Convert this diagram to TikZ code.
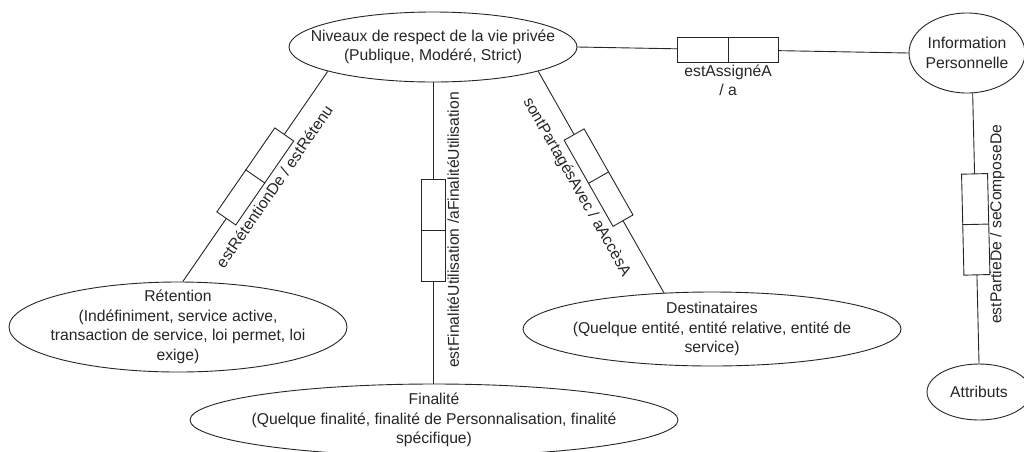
\documentclass[tikz,border=0pt]{standalone}
\usepackage{fontspec}
\setmainfont{Liberation Sans}
\usetikzlibrary{shapes.geometric,calc}
\begin{document}
\begin{tikzpicture}[x=1pt,y=-1pt,
  ink/.style={draw=black!85, line width=0.9pt},
  entity/.style={ellipse, ink, inner sep=0pt},
  txt/.style={align=center, text=black!85, font=\fontsize{15.7}{19.5}\selectfont, inner sep=0pt},
  relbox/.style={rectangle, ink, fill=white, minimum width=101pt, minimum height=25pt, inner sep=0pt},
  rellbl/.style={text=black!85, font=\fontsize{15.7}{19.5}\selectfont, inner xsep=0pt},
]
% canvas
\fill[white] (0,0) rectangle (1024,451);
\useasboundingbox (0,0) rectangle (1024,451);

% entities
\node[entity, minimum width=288pt, minimum height=70pt] (N) at (433,47) {};
\node[txt] (Nt) at (N.center) {Niveaux de respect de la vie privée\\(Publique, Modéré, Strict)};

\node[entity, minimum width=116pt, minimum height=80pt] (I) at (967,53) {};
\node[txt] (It) at (I.center) {Information\\Personnelle};

\node[entity, minimum width=338pt, minimum height=90pt] (R) at (178,327) {};
\node[txt] (Rt) at (R.center) {Rétention\\(Indéfiniment, service active,\\transaction de service, loi permet, loi\\exige)};

\node[entity, minimum width=488pt, minimum height=72pt] (F) at (434,420) {};
\node[txt] (Ft) at (F.center) {Finalité\\(Quelque finalité, finalité de Personnalisation, finalité\\spécifique)};

\node[entity, minimum width=378pt, minimum height=74pt] (D) at (712,329) {};
\node[txt] (Dt) at (D.center) {Destinataires\\(Quelque entité, entité relative, entité de\\service)};

\node[entity, minimum width=104pt, minimum height=56pt] (A) at (979,392) {};
\node[txt] (At) at (A.center) {Attributs};

% relations
\draw[ink] (N.east) -- node[pos=.455, relbox] (b1) {} (I.west);
\draw[ink] (b1.north) -- (b1.south);
\node[txt, anchor=north, inner sep=2pt] (l1) at (b1.south) {estAssignéA\\/ a};

\draw[ink] (N.193) -- node[pos=.5, sloped, relbox, minimum width=102pt, minimum height=23pt] (b2) {}
  node[pos=.49, sloped, rellbl, anchor=north, inner ysep=15pt] (l2) {estRétentionDe / estRétenu} (R.84);
\draw[ink] (b2.north) -- (b2.south);

\draw[ink] (N.south) -- node[pos=.49, sloped, relbox, minimum width=102pt, minimum height=24pt] (b3) {} (N.south |- F.north);
\draw[ink] (b3.north) -- (b3.south);
\node[rellbl, rotate=90, anchor=north, inner ysep=14pt] (l3) at (b3.center) {estFinalitéUtilisation /aFinalitéUtilisation};

\draw[ink] (N.347) -- node[pos=.48, sloped, relbox, minimum width=99pt, minimum height=23pt] (b4) {}
  node[pos=.47, sloped, rellbl, anchor=north, inner ysep=16pt] (l4) {sontPartagésAvec / aAccèsA} (D.143);
\draw[ink] (b4.north) -- (b4.south);

\draw[ink] (I.-82) -- node[pos=.485, sloped, relbox, minimum width=101pt, minimum height=26pt] (b5) {} (A.north);
\draw[ink] (b5.north) -- (b5.south);
\node[rellbl, rotate=90, anchor=north, inner ysep=14pt] (l5) at (b5.center) {estPartieDe / seComposeDe};
\end{tikzpicture}
\end{document}
